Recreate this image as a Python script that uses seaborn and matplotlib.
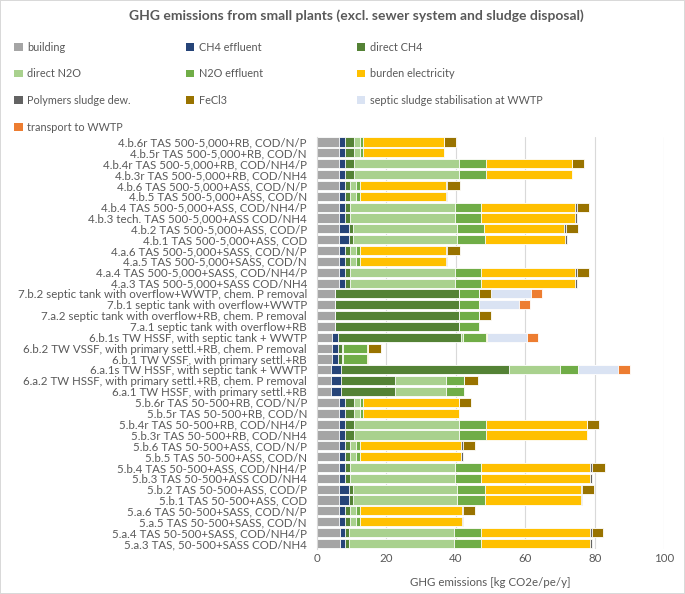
import matplotlib
matplotlib.use('Agg')
import matplotlib.pyplot as plt
from matplotlib.patches import Patch
import seaborn as sns
import numpy as np
import pandas as pd

# scenario labels, top to bottom
labels = [
    '4.b.6r TAS 500-5,000+RB, COD/N/P', '4.b.5r TAS 500-5,000+RB, COD/N',
    '4.b.4r TAS 500-5,000+RB, COD/NH4/P', '4.b.3r TAS 500-5,000+RB, COD/NH4',
    '4.b.6 TAS 500-5,000+ASS, COD/N/P', '4.b.5 TAS 500-5,000+ASS, COD/N',
    '4.b.4 TAS 500-5,000+ASS, COD/NH4/P', '4.b.3 tech. TAS 500-5,000+ASS COD/NH4',
    '4.b.2 TAS 500-5,000+ASS, COD/P', '4.b.1 TAS 500-5,000+ASS, COD',
    '4.a.6 TAS 500-5,000+SASS, COD/N/P', '4.a.5 TAS 500-5,000+SASS, COD/N',
    '4.a.4 TAS 500-5,000+SASS, COD/NH4/P', '4.a.3 TAS 500-5,000+SASS COD/NH4',
    '7.b.2 septic tank with overflow+WWTP, chem. P removal', '7.b.1 septic tank with overflow+WWTP',
    '7.a.2 septic tank with overflow+RB, chem. P removal', '7.a.1 septic tank with overflow+RB',
    '6.b.1s TW HSSF, with septic tank + WWTP', '6.b.2 TW VSSF, with primary settl.+RB, chem. P removal',
    '6.b.1 TW VSSF, with primary settl.+RB', '6.a.1s TW HSSF, with septic tank + WWTP',
    '6.a.2 TW HSSF, with primary settl.+RB, chem. P removal', '6.a.1 TW HSSF, with primary settl.+RB',
    '5.b.6r TAS 50-500+RB, COD/N/P', '5.b.5r TAS 50-500+RB, COD/N',
    '5.b.4r TAS 50-500+RB, COD/NH4/P', '5.b.3r TAS 50-500+RB, COD/NH4',
    '5.b.6 TAS 50-500+ASS, COD/N/P', '5.b.5 TAS 50-500+ASS, COD/N',
    '5.b.4 TAS 50-500+ASS, COD/NH4/P', '5.b.3 TAS 50-500+ASS COD/NH4',
    '5.b.2 TAS 50-500+ASS, COD/P', '5.b.1 TAS 50-500+ASS, COD',
    '5.a.6 TAS 50-500+SASS, COD/N/P', '5.a.5 TAS 50-500+SASS, COD/N',
    '5.a.4 TAS 50-500+SASS, COD/NH4/P', '5.a.3 TAS, 50-500+SASS COD/NH4',
]

building = [6.5, 6.5, 6.5, 6.5, 6.5, 6.5, 6.5, 6.5, 6.5, 6.5, 6.5, 6.5, 6.5, 6.5,
            5.4, 5.4, 5.4, 5.4, 4.5, 4.5, 4.5, 4.0, 4.0, 4.0,
            6.5, 6.5, 6.5, 6.5, 6.5, 6.5, 6.5, 6.5, 6.5, 6.5, 6.5, 6.5, 6.6, 6.6]
ch4_effluent = [1.6, 1.6, 1.6, 1.6, 1.6, 1.6, 1.6, 1.6, 2.8, 2.8, 1.6, 1.6, 1.6, 1.6,
                0, 0, 0, 0, 1.5, 1.5, 1.5, 3.1, 3.1, 3.1,
                1.6, 1.6, 1.6, 1.6, 1.6, 1.6, 1.6, 1.6, 2.8, 2.8, 1.6, 1.6, 1.6, 1.6]
direct_ch4 = [2.6, 2.6, 2.6, 2.6, 1.4, 1.4, 1.4, 1.4, 1.2, 1.2, 1.4, 1.4, 1.4, 1.4,
              35.6, 35.6, 35.6, 35.6, 35.6, 1.3, 1.3, 48.1, 15.3, 15.3,
              2.6, 2.6, 2.6, 2.6, 1.4, 1.4, 1.4, 1.4, 1.2, 1.2, 1.4, 1.4, 1.2, 1.2]
direct_n2o = [1.8, 1.8, 30.2, 30.2, 1.9, 1.9, 30.2, 30.2, 30.0, 30.0, 1.9, 1.9, 30.2, 30.2,
              0, 0, 0, 0, 0.4, 0.4, 0.4, 14.9, 14.9, 14.9,
              1.8, 1.8, 30.2, 30.2, 1.9, 1.9, 30.2, 30.2, 30.0, 30.0, 1.9, 1.9, 30.2, 30.2]
n2o_effluent = [0.9, 0.9, 7.8, 7.8, 1.0, 1.0, 7.7, 7.7, 7.6, 7.9, 1.0, 1.0, 7.7, 7.7,
                5.8, 5.8, 5.8, 5.8, 6.7, 6.8, 6.8, 5.0, 5.0, 5.0,
                0.9, 0.9, 7.8, 7.8, 1.0, 1.0, 7.7, 7.7, 7.9, 7.9, 1.0, 1.0, 7.8, 7.8]
electricity = [23.2, 23.2, 24.7, 24.7, 24.8, 24.8, 26.9, 26.9, 23.0, 23.1, 24.8, 24.8, 26.9, 26.9,
               0, 0, 0, 0, 0.3, 0.2, 0.2, 0.2, 0.2, 0.2,
               27.6, 27.6, 29.0, 29.0, 29.2, 29.2, 31.2, 31.2, 27.5, 27.5, 29.3, 29.3, 31.1, 31.1]
polymers = [0, 0, 0, 0, 0.4, 0.4, 0.6, 0.6, 0.5, 0.4, 0.4, 0.4, 0.6, 0.6,
            0, 0, 0, 0, 0, 0, 0, 0, 0, 0,
            0, 0, 0, 0, 0.5, 0.5, 0.6, 0.6, 0.5, 0.5, 0.5, 0.5, 0.7, 0.7]
fecl3 = [3.5, 0, 3.4, 0, 3.6, 0, 3.5, 0, 3.5, 0, 3.6, 0, 3.5, 0,
         3.4, 0, 3.4, 0, 0, 3.8, 0, 0, 3.8, 0,
         3.4, 0, 3.4, 0, 3.5, 0, 3.6, 0, 3.5, 0, 3.4, 0, 3.3, 0]
septic_sludge = [0] * 14 + [11.5, 11.4, 0, 0, 11.4, 0, 0, 11.4, 0, 0] + [0] * 14
transport = [0] * 14 + [3.1, 3.2, 0, 0, 3.4, 0, 0, 3.4, 0, 0] + [0] * 14

components = ['building', 'CH4 effluent', 'direct CH4', 'direct N2O', 'N2O effluent',
              'burden electricity', 'Polymers sludge dew.', 'FeCl3',
              'septic sludge stabilisation at WWTP', 'transport to WWTP']
colors = ['#a5a5a5', '#264478', '#548235', '#a9d18e', '#70ad47',
          '#ffc000', '#636363', '#997300', '#dae3f3', '#ed7d31']

df = pd.DataFrame({
    'scenario': labels,
    'building': building,
    'CH4 effluent': ch4_effluent,
    'direct CH4': direct_ch4,
    'direct N2O': direct_n2o,
    'N2O effluent': n2o_effluent,
    'burden electricity': electricity,
    'Polymers sludge dew.': polymers,
    'FeCl3': fecl3,
    'septic sludge stabilisation at WWTP': septic_sludge,
    'transport to WWTP': transport,
})
cum = df[components].cumsum(axis=1)

sns.set_style('white')
plt.rcParams['font.family'] = ['Lato', 'DejaVu Sans']
text_col = '#595959'

fig = plt.figure(figsize=(6.85, 5.94), dpi=100)
ax = fig.add_axes([0.4623, 0.076, 0.5075, 0.694])

# stacked bars: draw cumulative totals from the outermost segment inwards
for comp, col in reversed(list(zip(components, colors))):
    sns.barplot(x=cum[comp], y=df['scenario'], orient='h', color=col, width=0.84,
                edgecolor='white', linewidth=0.6, ax=ax, saturation=1)

ax.set_xlim(0, 100)
ax.set_xticks([0, 20, 40, 60, 80, 100])
ax.grid(axis='x', color='#d9d9d9', linewidth=0.8)
ax.set_axisbelow(True)
for s in ['top', 'right', 'bottom']:
    ax.spines[s].set_visible(False)
ax.spines['left'].set_color('#d9d9d9')
ax.tick_params(axis='y', labelsize=8.3, colors=text_col, length=0, pad=7)
ax.tick_params(axis='x', labelsize=8.3, colors=text_col, length=0, pad=3)
ax.set_ylabel('')
ax.set_xlabel('GHG emissions [kg CO2e/pe/y]', fontsize=8.3, color=text_col, labelpad=9)

fig.text(0.52, 0.985, 'GHG emissions from small plants (excl. sewer system and sludge disposal)',
         ha='center', va='top', fontsize=10, fontweight='bold', color=text_col)

# legend in three columns, filled row by row
handles = [Patch(facecolor=c, edgecolor='none') for c in colors]
col_x = [0.021, 0.272, 0.521]
for i, x in enumerate(col_x):
    idx = list(range(i, len(components), 3))
    leg = fig.legend([handles[j] for j in idx], [components[j] for j in idx],
                     loc='upper left', bbox_to_anchor=(x, 0.93), frameon=False,
                     fontsize=7.8, handlelength=0.75, handleheight=0.75,
                     handletextpad=0.45, labelspacing=1.45, borderaxespad=0, borderpad=0)
    for t in leg.get_texts():
        t.set_color(text_col)

fig.patch.set_edgecolor('#d9d9d9')
fig.patch.set_linewidth(1.2)

fig.savefig('out.png', dpi=100, facecolor='white', edgecolor='#d9d9d9')
